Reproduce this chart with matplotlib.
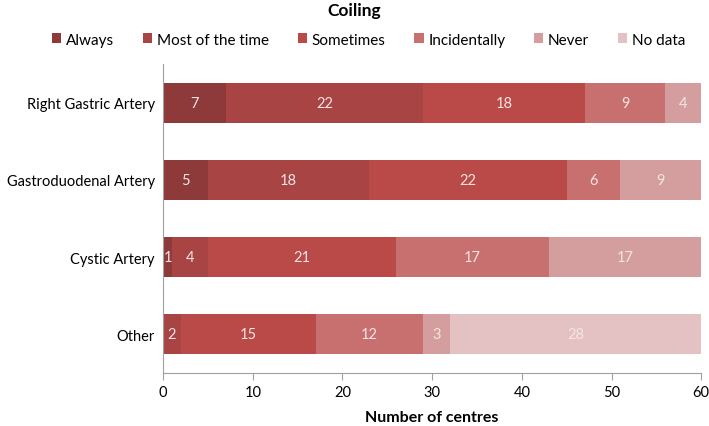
import matplotlib.pyplot as plt
import numpy as np

plt.rcParams['font.family'] = ['Lato', 'DejaVu Sans']

categories = ['Right Gastric Artery', 'Gastroduodenal Artery', 'Cystic Artery', 'Other']
series = ['Always', 'Most of the time', 'Sometimes', 'Incidentally', 'Never', 'No data']
values = {
    'Always':           [7, 5, 1, 0],
    'Most of the time': [22, 18, 4, 2],
    'Sometimes':        [18, 22, 21, 15],
    'Incidentally':     [9, 6, 17, 12],
    'Never':            [4, 9, 17, 3],
    'No data':          [0, 0, 0, 28],
}
colors = ['#8f3a3a', '#a84444', '#b94a48', '#c87070', '#d49e9f', '#e4c2c3']

fig = plt.figure(figsize=(7.09, 4.27), dpi=100)
ax = fig.add_axes([0.23, 0.125, 0.759, 0.722])

y = np.arange(len(categories))
left = np.zeros(len(categories))
for name, c in zip(series, colors):
    v = np.array(values[name], dtype=float)
    bars = ax.barh(y, v, left=left, height=0.51, color=c, label=name)
    for b, val in zip(bars, v):
        if val > 0:
            ax.text(b.get_x() + b.get_width() / 2, b.get_y() + b.get_height() / 2,
                    f'{int(val)}', ha='center', va='center', color='#f5e4e4', fontsize=10.5)
    left += v

ax.set_xlim(0, 60)
ax.set_ylim(-0.5, 3.5)
ax.invert_yaxis()
ax.set_yticks(y)
ax.set_yticklabels(categories, fontsize=10.5)
ax.set_xticks(range(0, 61, 10))
ax.tick_params(axis='x', labelsize=10.5, color='#a0a0a0', length=5, pad=4)
ax.tick_params(axis='y', length=0, pad=6)
for s in ['top', 'right']:
    ax.spines[s].set_visible(False)
for s in ['left', 'bottom']:
    ax.spines[s].set_color('#a0a0a0')
ax.set_xlabel('Number of centres', fontsize=11.5, fontweight='bold', labelpad=8)

fig.text(0.5, 0.975, 'Coiling', ha='center', va='center', fontsize=12.5, fontweight='bold')
fig.legend(loc='center', bbox_to_anchor=(0.52, 0.905), ncol=6, frameon=False,
           fontsize=11, handlelength=0.6, handleheight=0.6, handletextpad=0.3,
           columnspacing=1.9)

fig.savefig('out.png', dpi=100)
